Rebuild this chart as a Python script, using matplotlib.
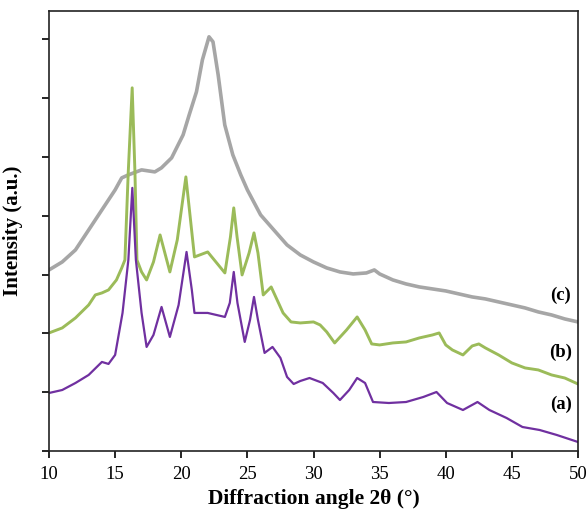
import matplotlib
matplotlib.use("Agg")
import matplotlib.pyplot as plt

# ---- data (arbitrary intensity units) ----
x_a = [10, 11, 12, 13, 14, 14.5, 15, 15.56, 16.0, 16.3, 16.57, 17.0, 17.38, 17.9,
       18.51, 19.14, 19.8, 20.4, 20.8, 21.0, 22.0, 23.3, 23.67, 23.97, 24.25, 24.8, 25.2,
       25.5, 25.8, 26.3, 26.9, 27.5, 28.0, 28.5, 29.0, 29.7, 30.7, 31.5, 32.0, 32.7, 33.3,
       33.9, 34.5, 35.7, 37.0, 38.3, 39.3, 40.1, 41.3, 42.4, 43.3, 44.6, 45.8, 47.1, 48.4, 50.0]
y_a = [986, 1037, 1156, 1293, 1514, 1480, 1633, 2347, 3248, 4473, 3248, 2347, 1769, 1973,
       2449, 1939, 2483, 3384, 2738, 2347, 2347, 2279, 2517, 3044, 2517, 1854, 2228,
       2619, 2228, 1667, 1769, 1582, 1259, 1139, 1190, 1241, 1156, 986, 867, 1037, 1241,
       1156, 833, 816, 833, 918, 1003, 816, 697, 833, 697, 561, 408, 357, 272, 153]

x_b = [10, 11, 12, 13, 13.5, 14, 14.5, 15.1, 15.5, 15.74, 15.99, 16.29, 16.5, 16.65, 17.0,
       17.38, 17.9, 18.4, 18.8, 19.14, 19.7, 20.35, 20.7, 21.0, 22.0, 23.3, 23.72, 23.97,
       24.22, 24.6, 25.13, 25.5, 25.8, 26.2, 26.8, 27.7, 28.3, 29.0, 30.0, 30.5, 31.0, 31.6,
       32.5, 33.3, 33.9, 34.4, 35.0, 36.0, 37.0, 38.0, 39.0, 39.5, 40.0, 40.5, 41.3, 42.0,
       42.5, 43.0, 44.0, 45.0, 46.0, 47.0, 48.0, 49.0, 50.0]
y_b = [2007, 2092, 2262, 2483, 2653, 2687, 2738, 2908, 3112, 3248, 4728, 6174, 4728, 3248, 3044,
       2908, 3214, 3673, 3333, 3044, 3589, 4660, 3929, 3299, 3384, 3027, 3640, 4133,
       3640, 2993, 3367, 3708, 3367, 2653, 2789, 2347, 2194, 2177, 2194, 2143, 2024, 1837,
       2058, 2279, 2058, 1820, 1803, 1837, 1854, 1922, 1973, 2007, 1803, 1718, 1633, 1786,
       1820, 1752, 1633, 1497, 1412, 1378, 1293, 1241, 1139]

x_c = [10, 11, 12, 13, 14, 15, 15.5, 16, 17, 18, 18.5, 19.27, 20.14, 20.6, 21.15, 21.6,
       22.1, 22.4, 22.79, 23.29, 23.9, 24.5, 25.0, 26.0, 27.0, 28.0, 29.0, 30.0, 31.0, 32.0,
       33.0, 34.0, 34.6, 35.0, 36.0, 37.0, 38.0, 39.0, 40.0, 41.0, 42.0, 43.0, 44.0, 45.0,
       46.0, 47.0, 48.0, 49.0, 50.0]
y_c = [3078, 3214, 3418, 3758, 4099, 4439, 4643, 4694, 4779, 4745, 4813, 4983, 5374, 5714,
       6106, 6650, 7041, 6956, 6395, 5544, 5034, 4694, 4439, 4014, 3758, 3503, 3333, 3214,
       3112, 3044, 3010, 3027, 3078, 3010, 2908, 2840, 2789, 2755, 2721, 2670, 2619, 2585,
       2534, 2483, 2432, 2364, 2313, 2245, 2194]

series_labels = ["(a)", "(b)", "(c)"]
x_ticks = [10, 15, 20, 25, 30, 35, 40, 45, 50]
y_ticks = [0, 1000, 2000, 3000, 4000, 5000, 6000, 7000]

colors = ["#7030A0", "#9BBB59", "#A6A6A6"]

fig = plt.figure(figsize=(5.88, 5.15), dpi=100)
ax = fig.add_axes([49 / 588, 1 - 451 / 515, (578 - 49) / 588, (451 - 11) / 515])

ax.plot(x_c, y_c, color=colors[2], lw=2.6, solid_joinstyle="round")
ax.plot(x_b, y_b, color=colors[1], lw=2.1, solid_joinstyle="round")
ax.plot(x_a, y_a, color=colors[0], lw=1.6, solid_joinstyle="round")

ax.set_xlim(10, 50)
ax.set_ylim(0, 7480)
ax.set_xticks(x_ticks)
ax.set_yticks(y_ticks)
ax.set_yticklabels([])
ax.set_xticklabels([str(t) for t in x_ticks], family="Liberation Serif", fontsize=13.5)
ax.tick_params(axis="both", direction="out", length=5, width=1.2, color="black")
ax.tick_params(axis="x", pad=6)
for s in ax.spines.values():
    s.set_linewidth(1.2)
    s.set_color("#222222")

ax.set_xlabel("Diffraction angle 2θ (°)", family="Liberation Serif", fontweight="bold",
              fontsize=15.5, labelpad=4)
ax.set_ylabel("Intensity (a.u.)", family="Liberation Serif", fontweight="bold",
              fontsize=15, labelpad=10)

# series labels at right
label_y = [1000 * (451 - 404) / 58.8, 1000 * (451 - 352) / 58.8, 1000 * (451 - 295) / 58.8]
for lab, yy in zip(series_labels, label_y):
    ax.text(48.7, yy, lab, family="Liberation Serif", fontweight="bold", fontsize=13.5,
            ha="center", va="center")

fig.savefig("out.png", dpi=100)
